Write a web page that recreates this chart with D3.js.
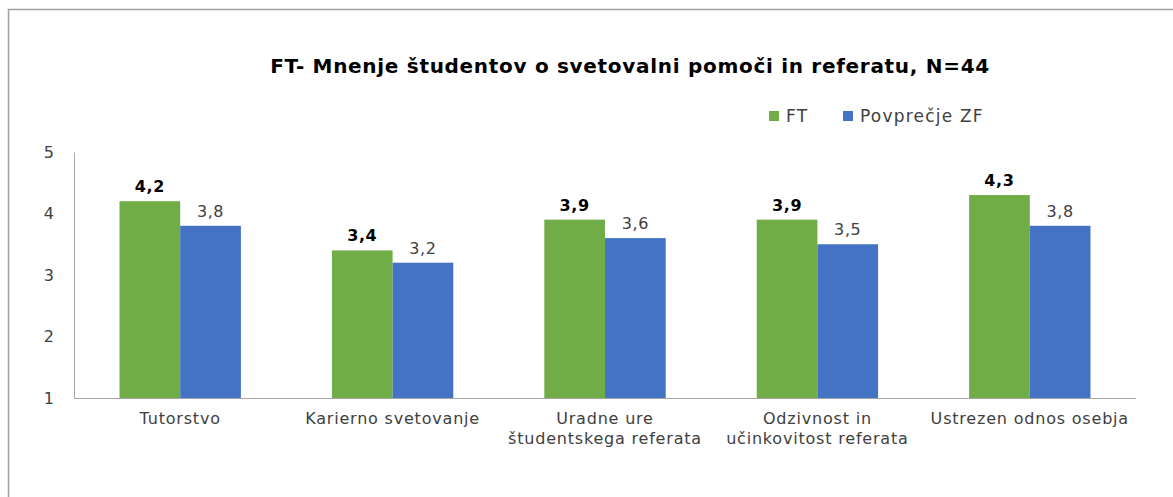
<!DOCTYPE html>
<html lang="sl">
<head>
    <meta charset="UTF-8">
    <title>FT - Mnenje študentov</title>
    <script src="https://cdn.jsdelivr.net/npm/d3@7"></script>
    <style>
        body { margin: 0; background: #fff; }
    </style>
</head>
<body>
<script>
    // podatki
    const categories = [
        ['Tutorstvo'],
        ['Karierno svetovanje'],
        ['Uradne ure', 'študentskega referata'],
        ['Odzivnost in', 'učinkovitost referata'],
        ['Ustrezen odnos osebja']
    ];
    const seriesNames = ['FT', 'Povprečje ZF'];
    const ftValues = [4.2, 3.4, 3.9, 3.9, 4.3];
    const zfValues = [3.8, 3.2, 3.6, 3.5, 3.8];
    const yTicks = [1, 2, 3, 4, 5];

    const colors = ['#70ad47', '#4472c4'];
    const font = '"DejaVu Sans", sans-serif';

    const width = 1173, height = 497;
    const margin = {left: 74, right: 37, top: 152, bottom: 99};

    const svg = d3.select('body').append('svg')
        .attr('width', width)
        .attr('height', height)
        .style('font-family', font);

    // ramka
    svg.append('path')
        .attr('d', `M8.5,${height}V9.5H${width}`)
        .attr('fill', 'none')
        .attr('stroke', '#a0a0a0')
        .attr('stroke-width', 1.5);

    // naslov
    svg.append('text')
        .attr('x', 630)
        .attr('y', 73)
        .attr('text-anchor', 'middle')
        .style('font-size', '20px')
        .style('letter-spacing', '0.7px')
        .style('font-weight', 'bold')
        .attr('fill', '#000')
        .text('FT- Mnenje študentov o svetovalni pomoči in referatu, N=44');

    const x0 = d3.scaleBand()
        .domain(d3.range(categories.length))
        .range([margin.left, width - margin.right]);

    const x1 = d3.scaleBand()
        .domain([0, 1])
        .range([0, x0.bandwidth()])
        .paddingInner(0)
        .paddingOuter(0.75);

    const y = d3.scaleLinear()
        .domain([1, 5])
        .range([height - margin.bottom, margin.top]);

    // y os
    const yAxis = svg.append('g')
        .attr('transform', `translate(${margin.left},0)`)
        .call(d3.axisLeft(y).tickValues(yTicks).tickSize(0).tickPadding(20).tickFormat(d3.format('d')));
    yAxis.select('.domain').attr('stroke', '#a6a6a6');
    yAxis.selectAll('text')
        .style('font-family', font)
        .style('font-size', '16px')
        .attr('fill', '#404040');

    // stolpci
    const groups = svg.append('g')
        .selectAll('g')
        .data(d3.range(categories.length))
        .join('g')
        .attr('transform', i => `translate(${x0(i)},0)`);

    const rows = i => [ftValues[i], zfValues[i]];

    groups.selectAll('rect')
        .data(i => rows(i))
        .join('rect')
        .attr('x', (d, j) => x1(j))
        .attr('y', d => y(d))
        .attr('width', x1.bandwidth())
        .attr('height', d => y(1) - y(d))
        .attr('fill', (d, j) => colors[j]);

    groups.selectAll('text.val')
        .data(i => rows(i))
        .join('text')
        .attr('class', 'val')
        .attr('x', (d, j) => x1(j) + x1.bandwidth() / 2)
        .attr('y', d => y(d) - 9)
        .attr('text-anchor', 'middle')
        .style('font-size', '16px')
        .style('letter-spacing', '0.6px')
        .style('font-weight', (d, j) => j === 0 ? 'bold' : 'normal')
        .attr('fill', (d, j) => j === 0 ? '#000' : '#404040')
        .text(d => d3.format('.1f')(d).replace('.', ','));

    // x os
    svg.append('line')
        .attr('x1', margin.left)
        .attr('x2', width - margin.right)
        .attr('y1', y(1) + 0.5)
        .attr('y2', y(1) + 0.5)
        .attr('stroke', '#a6a6a6');

    groups.append('text')
        .attr('text-anchor', 'middle')
        .style('font-size', '16px')
        .style('letter-spacing', '0.8px')
        .attr('fill', '#404040')
        .selectAll('tspan')
        .data(i => categories[i])
        .join('tspan')
        .attr('x', x0.bandwidth() / 2)
        .attr('y', (d, k) => y(1) + 26 + k * 20)
        .text(d => d);

    // legenda
    const legend = svg.append('g')
        .selectAll('g')
        .data(seriesNames)
        .join('g')
        .attr('transform', (d, i) => `translate(${[769, 843][i]},111)`);

    legend.append('rect')
        .attr('width', 10)
        .attr('height', 10)
        .attr('fill', (d, i) => colors[i]);

    legend.append('text')
        .attr('x', 17)
        .attr('y', 11)
        .style('font-size', '17px')
        .style('letter-spacing', '1.2px')
        .attr('fill', '#404040')
        .text(d => d);
</script>
</body>
</html>
